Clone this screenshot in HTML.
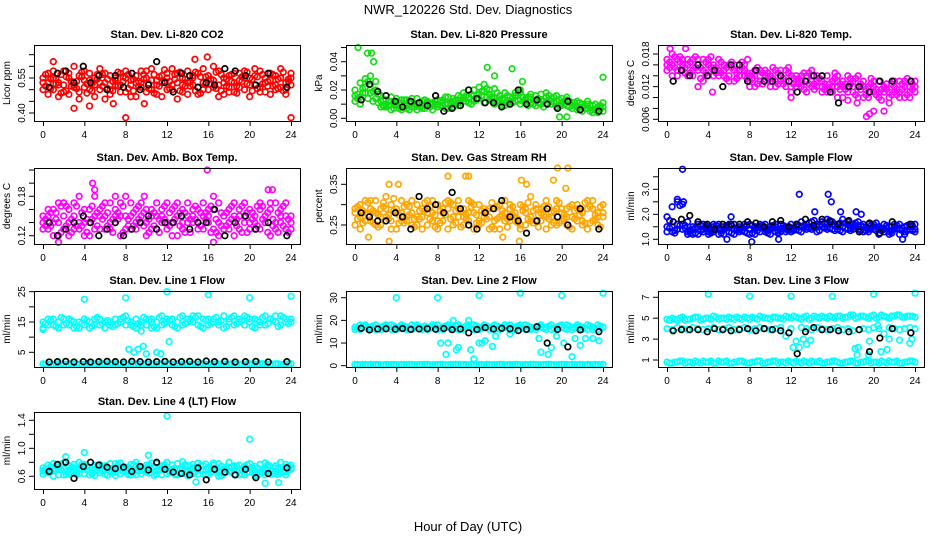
<!DOCTYPE html>
<html><head><meta charset="utf-8">
<style>
html,body{margin:0;padding:0;background:#fff;}
svg{display:block;font-family:"Liberation Sans",sans-serif;}
</style></head>
<body>
<svg id="chart" width="936" height="540" viewBox="0 0 936 540" xmlns="http://www.w3.org/2000/svg">
<rect width="936" height="540" fill="#fff"/>
<text x="468" y="14" font-size="13" text-anchor="middle">NWR_120226  Std. Dev. Diagnostics</text>
<text x="468" y="531" font-size="13" text-anchor="middle">Hour of Day (UTC)</text>
</svg>
<script>
const hours=[0,0.5,1,1.5,2,2.5,3,3.5,4,4.5,5,5.5,6,6.5,7,7.5,8,8.5,9,9.5,10,10.5,11,11.5,12,12.5,13,13.5,14,14.5,15,15.5,16,16.5,17,17.5,18,18.5,19,19.5,20,20.5,21,21.5,22,22.5,23,23.5,24];
const hoursQ=[0.25,0.75,1.25,1.75,2.25,2.75,3.25,3.75,4.25,4.75,5.25,5.75,6.25,6.75,7.25,7.75,8.25,8.75,9.25,9.75,10.25,10.75,11.25,11.75,12.25,12.75,13.25,13.75,14.25,14.75,15.25,15.75,16.25,16.75,17.25,17.75,18.25,18.75,19.25,19.75,20.25,20.75,21.25,21.75,22.25,22.75,23.25,23.75];
const blackHours=[0.6,1.4,2.2,3.0,3.9,4.6,5.4,6.2,7.0,7.8,8.6,9.4,10.2,11.0,11.8,12.6,13.4,14.2,15.0,15.8,16.6,17.6,18.6,19.6,20.6,21.8,23.6];
const xTicks=[0,4,8,12,16,20,24];

const co2A=[.55,.57,.50,.53,.58,.48,.52,.56,.51,.54,.47,.59,.53,.50,.55,.57,.49,.52,.56,.53,.58,.50,.54,.47,.55,.52,.57,.49,.53,.56,.51,.59,.50,.54,.52,.48,.56,.53,.57,.50,.55,.52,.58,.49,.54,.56,.51,.53,.55];
const co2B=[.50,.53,.58,.47,.52,.55,.60,.49,.54,.57,.52,.50,.46,.56,.52,.49,.58,.54,.47,.51,.55,.59,.48,.53,.57,.50,.46,.55,.58,.52,.48,.53,.56,.60,.47,.55,.51,.49,.54,.58,.47,.56,.51,.55,.48,.52,.59,.50,.57];
const co2C=[.53,.48,.55,.52,.49,.57,.51,.46,.58,.50,.55,.53,.57,.48,.54,.52,.55,.47,.53,.58,.49,.54,.52,.56,.50,.59,.53,.52,.48,.55,.57,.50,.54,.51,.58,.53,.49,.57,.51,.55,.52,.59,.49,.53,.57,.50,.55,.48,.52];
const co2D=[.515,.545,.525,.565,.495,.535,.505,.555,.485,.525,.565,.515,.545,.495,.575,.535,.505,.545,.515,.565,.525,.485,.555,.535,.505,.545,.575,.515,.535,.495,.555,.525,.545,.505,.565,.515,.535,.485,.555,.525,.545,.505,.565,.535,.515,.545,.495,.535];
const co2E=[.565,.505,.545,.485,.555,.515,.535,.575,.525,.495,.545,.565,.505,.535,.515,.555,.565,.495,.535,.545,.505,.565,.515,.585,.535,.565,.495,.545,.515,.575,.485,.555,.525,.575,.495,.545,.565,.515,.535,.575,.495,.555,.525,.515,.565,.505,.575,.545];
const co2OutH=[1,3,4.5,8,14.7,15.9,24,9.8,6.8];
const co2OutV=[.62,.42,.43,.38,.63,.64,.38,.44,.44];
const co2Black=[.51,.57,.58,.53,.60,.53,.56,.50,.56,.51,.57,.50,.52,.62,.53,.49,.57,.56,.51,.53,.52,.59,.58,.56,.52,.57,.51];

const presA=[.020,.025,.028,.018,.014,.012,.010,.015,.009,.011,.013,.008,.010,.012,.009,.011,.008,.013,.010,.012,.016,.018,.015,.020,.022,.019,.017,.014,.016,.013,.015,.012,.018,.014,.011,.016,.013,.015,.010,.012,.014,.009,.011,.008,.010,.007,.009,.006,.008];
const presB=[.012,.015,.022,.030,.020,.016,.008,.012,.014,.006,.009,.011,.014,.007,.012,.010,.013,.009,.015,.008,.011,.014,.020,.012,.017,.024,.013,.021,.011,.018,.010,.016,.020,.011,.015,.009,.017,.011,.014,.016,.009,.013,.007,.012,.005,.010,.006,.004,.011];
const presC=[.016,.010,.018,.024,.026,.008,.013,.006,.010,.013,.007,.014,.006,.009,.011,.006,.010,.011,.007,.014,.009,.012,.011,.016,.014,.011,.020,.010,.013,.009,.012,.018,.010,.013,.017,.012,.010,.018,.012,.008,.011,.015,.009,.006,.008,.012,.004,.008,.005];
const presD=[.017,.021,.014,.019,.011,.009,.012,.007,.011,.009,.012,.008,.011,.007,.010,.012,.009,.015,.011,.013,.015,.012,.017,.014,.019,.015,.012,.018,.014,.011,.014,.016,.012,.015,.010,.014,.012,.016,.011,.013,.010,.012,.009,.011,.007,.009,.006,.009];
const presE=[.014,.018,.026,.012,.017,.013,.009,.011,.007,.013,.006,.010,.008,.013,.008,.009,.012,.007,.009,.010,.013,.016,.010,.013,.016,.021,.015,.012,.009,.016,.011,.013,.015,.009,.013,.011,.008,.013,.015,.009,.012,.008,.011,.006,.009,.005,.010,.007];
const presOutH=[0.3,1.2,1.6,1.8,12.8,15.2,13.5,24,16.2,19.8,20.5,2.8];
const presOutV=[.050,.046,.046,.040,.036,.035,.030,.029,.026,.001,.001,.008];
const presBlack=[.013,.024,.019,.016,.012,.008,.012,.011,.009,.016,.005,.007,.009,.020,.014,.011,.011,.008,.010,.020,.010,.013,.010,.007,.012,.006,.005];

const tempA=[.017,.016,.015,.017,.016,.015,.016,.017,.014,.016,.015,.016,.014,.015,.016,.014,.013,.015,.014,.013,.014,.015,.013,.012,.014,.013,.012,.014,.013,.012,.013,.012,.011,.013,.012,.011,.013,.012,.010,.012,.011,.013,.011,.010,.012,.011,.013,.010,.012];
const tempB=[.015,.018,.014,.016,.017,.014,.017,.015,.016,.014,.017,.014,.016,.013,.015,.016,.014,.012,.015,.014,.012,.013,.014,.015,.012,.014,.013,.011,.014,.013,.011,.014,.012,.010,.013,.012,.011,.014,.012,.010,.013,.011,.012,.009,.011,.013,.010,.012,.013];
const tempC=[.016,.014,.017,.015,.014,.017,.015,.013,.017,.015,.014,.015,.013,.016,.014,.015,.012,.014,.013,.015,.013,.012,.015,.013,.011,.012,.014,.013,.012,.014,.012,.011,.013,.012,.010,.014,.012,.010,.013,.011,.012,.010,.012,.011,.013,.010,.012,.011,.011];
const tempD=[.0165,.0155,.0175,.0145,.0165,.0155,.0135,.0165,.0155,.0145,.0165,.0135,.0155,.0145,.0165,.0135,.0145,.0125,.0145,.0135,.0155,.0125,.0135,.0145,.0125,.0135,.0115,.0145,.0125,.0135,.0115,.0125,.0145,.0115,.0125,.0135,.0105,.0125,.0115,.0135,.0105,.0115,.0125,.0105,.0115,.0125,.0105,.0125];
const tempE=[.0155,.0175,.0165,.0155,.0145,.0175,.0155,.0145,.0175,.0155,.0145,.0155,.0165,.0135,.0155,.0145,.0135,.0155,.0125,.0145,.0135,.0145,.0125,.0155,.0135,.0125,.0145,.0125,.0115,.0135,.0125,.0115,.0135,.0125,.0115,.0125,.0135,.0115,.0105,.0125,.0115,.0095,.0115,.0125,.0105,.0115,.0135,.0115];
const tempOutH=[0.3,1.8,3.0,4.4,7.8,14,16.5,12,19.3,19.6,20,21,18.4,17.5];
const tempOutV=[.019,.019,.012,.011,.017,.015,.014,.010,.0065,.007,.0075,.0075,.009,.0095];
const tempBlack=[.013,.015,.014,.016,.014,.015,.012,.016,.016,.013,.015,.013,.013,.014,.013,.011,.013,.014,.014,.011,.009,.012,.012,.011,.013,.013,.013];

const ambA=[.15,.13,.16,.14,.17,.12,.15,.13,.16,.14,.18,.13,.15,.14,.16,.12,.15,.17,.13,.15,.14,.16,.13,.15,.17,.14,.12,.16,.14,.15,.13,.17,.14,.16,.12,.15,.14,.17,.13,.15,.16,.14,.13,.15,.17,.14,.16,.13,.15];
const ambB=[.13,.16,.14,.12,.15,.16,.13,.18,.14,.12,.15,.16,.13,.17,.14,.15,.18,.13,.16,.14,.12,.15,.17,.14,.13,.16,.15,.13,.17,.14,.16,.13,.15,.18,.14,.13,.16,.12,.15,.17,.14,.13,.16,.15,.12,.17,.14,.15,.13];
const ambC=[.14,.15,.12,.17,.13,.14,.17,.14,.12,.16,.13,.15,.17,.13,.15,.17,.13,.15,.14,.17,.16,.13,.15,.16,.14,.12,.17,.14,.15,.16,.14,.15,.16,.13,.17,.15,.13,.15,.16,.14,.13,.15,.17,.14,.16,.13,.15,.17,.14];
const ambD=[.145,.135,.155,.125,.165,.145,.135,.155,.145,.165,.135,.145,.155,.125,.145,.165,.135,.155,.145,.135,.125,.155,.145,.165,.135,.145,.155,.125,.145,.165,.135,.155,.125,.145,.155,.135,.165,.145,.125,.155,.145,.135,.165,.125,.145,.155,.135,.145];
const ambE=[.135,.155,.145,.165,.135,.125,.165,.135,.125,.145,.155,.165,.135,.145,.155,.125,.145,.135,.165,.155,.145,.135,.125,.145,.155,.165,.135,.155,.125,.145,.155,.145,.165,.125,.135,.155,.145,.135,.165,.125,.155,.165,.145,.155,.135,.125,.165,.125];
const ambOutH=[2,4.8,5,9.8,15.9,16.5,21.8,22.2,1.5,7];
const ambOutV=[.17,.20,.19,.18,.22,.11,.19,.19,.11,.18];
const ambBlack=[.14,.12,.13,.14,.15,.14,.12,.13,.14,.12,.13,.14,.15,.13,.14,.14,.15,.13,.14,.14,.16,.12,.14,.15,.13,.14,.12];

const rhA=[.28,.30,.26,.29,.31,.25,.27,.30,.24,.28,.26,.31,.27,.29,.25,.28,.30,.26,.29,.27,.31,.25,.28,.30,.26,.28,.24,.29,.27,.31,.26,.28,.30,.25,.27,.29,.26,.31,.27,.25,.29,.27,.30,.26,.28,.24,.29,.27,.28];
const rhB=[.25,.27,.31,.26,.28,.29,.32,.26,.29,.31,.27,.25,.30,.24,.28,.31,.26,.29,.24,.30,.27,.29,.26,.24,.30,.27,.29,.26,.24,.28,.30,.26,.25,.29,.32,.26,.29,.24,.28,.31,.26,.29,.24,.30,.26,.29,.31,.25,.27];
const rhC=[.29,.24,.28,.31,.25,.27,.29,.24,.28,.26,.30,.28,.25,.27,.31,.26,.24,.28,.31,.25,.29,.27,.31,.28,.25,.29,.27,.24,.30,.26,.29,.27,.24,.28,.26,.30,.28,.27,.25,.29,.28,.25,.27,.29,.25,.31,.26,.28,.30];
const rhD=[.265,.285,.305,.255,.275,.295,.265,.315,.275,.255,.295,.265,.285,.305,.265,.245,.285,.275,.305,.255,.285,.265,.295,.275,.255,.285,.305,.265,.275,.245,.295,.265,.285,.305,.255,.275,.295,.265,.285,.255,.275,.295,.265,.285,.305,.255,.275,.295];
const rhE=[.295,.255,.275,.285,.245,.305,.275,.285,.255,.295,.275,.245,.265,.285,.295,.275,.255,.305,.265,.285,.245,.275,.305,.255,.285,.265,.245,.295,.285,.265,.275,.255,.295,.265,.285,.245,.275,.295,.255,.305,.265,.245,.285,.275,.255,.295,.265,.245];
const rhOutH=[1.3,3.3,3.3,4.2,9,10.7,11.0,15.9,16.1,16.6,19.6,20.6,20.4,19.2,14.3];
const rhOutV=[.22,.21,.35,.35,.37,.37,.37,.21,.36,.35,.39,.39,.34,.36,.22];
const rhBlack=[.28,.27,.26,.26,.28,.27,.24,.32,.29,.30,.28,.33,.29,.25,.24,.28,.29,.31,.27,.26,.23,.26,.29,.27,.25,.29,.24];

const sfA=[1.9,2.3,1.6,1.4,1.3,1.5,1.2,1.4,1.5,1.3,1.4,1.2,1.5,1.4,1.3,1.5,1.4,1.2,1.5,1.3,1.4,1.6,1.3,1.5,1.4,1.6,1.5,1.4,1.7,1.6,1.5,1.8,1.6,1.4,1.5,1.7,1.5,1.4,1.6,1.3,1.5,1.4,1.3,1.5,1.4,1.2,1.5,1.4,1.3];
const sfB=[1.3,1.5,2.5,1.6,1.7,1.2,1.5,1.6,1.3,1.5,1.6,1.4,1.3,1.6,1.5,1.3,1.6,1.5,1.3,1.6,1.2,1.5,1.4,1.3,1.6,1.4,1.7,1.5,1.4,1.5,1.7,1.5,1.4,1.6,1.8,1.4,1.6,1.5,1.3,1.6,1.4,1.2,1.6,1.3,1.5,1.6,1.3,1.5,1.6];
const sfC=[1.5,1.3,1.4,2.4,1.2,1.4,1.6,1.3,1.2,1.6,1.2,1.5,1.6,1.2,1.4,1.6,1.2,1.4,1.6,1.4,1.5,1.3,1.6,1.4,1.3,1.5,1.3,1.6,1.5,1.3,1.6,1.4,1.7,1.5,1.3,1.6,1.4,1.7,1.5,1.4,1.6,1.5,1.4,1.2,1.6,1.4,1.2,1.6,1.4];
const sfD=[1.45,1.35,2.35,1.55,1.25,1.45,1.35,1.55,1.25,1.45,1.35,1.55,1.25,1.45,1.35,1.25,1.55,1.35,1.45,1.25,1.45,1.35,1.55,1.45,1.35,1.55,1.45,1.65,1.45,1.55,1.65,1.45,1.55,1.35,1.65,1.45,1.55,1.35,1.45,1.55,1.35,1.45,1.55,1.35,1.45,1.35,1.55,1.35];
const sfE=[1.75,1.25,1.55,1.45,1.35,1.25,1.55,1.45,1.35,1.55,1.25,1.45,1.55,1.35,1.45,1.55,1.25,1.45,1.55,1.35,1.55,1.25,1.45,1.35,1.45,1.35,1.55,1.45,1.75,1.35,1.45,1.75,1.35,1.65,1.45,1.35,1.65,1.55,1.35,1.45,1.65,1.35,1.45,1.25,1.55,1.45,1.35,1.55];
const sfOutH=[1.5,1.0,1.6,8.2,10.8,15.6,15.9,12.8,16.8,14.3,18.3,18.8,22.8,6.2,5.8];
const sfOutV=[3.8,2.6,2.5,0.9,1.0,2.8,2.5,2.8,2.1,2.1,2.1,2.0,1.0,1.9,1.0];
const sfBlack=[1.7,1.8,1.95,1.7,1.6,1.4,1.6,1.6,1.6,1.7,1.65,1.5,1.7,1.75,1.5,1.6,1.8,1.55,1.8,1.7,1.6,1.75,1.3,1.65,1.25,1.7,1.6];

const l1A=[15,16,14,15,16,14,15,13,16,15,14,16,15,14,16,15,17,14,16,15,14,16,15,17,16,14,15,17,16,15,17,16,14,16,15,17,15,14,16,17,15,16,14,17,16,15,17,16,15];
const l1B=[13,14,16,13,14,16,13,15,14,13,16,14,13,15,14,16,14,15,13,14,16,15,13,14,15,16,13,14,15,17,14,13,16,15,14,13,16,17,15,14,16,13,15,14,16,17,14,15,16];
const l1C=[1.2,1.1,1.0,1.2,1.1,1.0,1.2,1.1,1.0,1.2,1.1,1.2,1.0,1.1,1.2,1.0,1.1,1.2,1.0,1.1,1.2,1.1,1.0,1.2,1.1,1.0,1.2,1.1,1.2,1.0,1.1,1.2,1.0,1.1,1.2,1.1,1.0,1.2,1.1,1.0,1.2,1.1,1.2,1.0,1.1,1.2,1.0,1.1,1.2];
const l1D=[14.5,15.5,13.5,16.5,14.5,15.5,13.5,14.5,15.5,13.5,16.5,14.5,15.5,13.5,14.5,16.5,15.5,13.5,14.5,16.5,15.5,13.5,16.5,14.5,15.5,13.5,16.5,14.5,15.5,16.5,13.5,15.5,14.5,16.5,15.5,13.5,16.5,14.5,15.5,16.5,13.5,15.5,16.5,14.5,15.5,13.5,16.5,14.5];
const l1E=[1.1,1.0,1.2,1.1,1.0,1.2,1.1,1.0,1.2,1.1,1.0,1.1,1.2,1.0,1.1,1.2,1.0,1.1,1.2,1.0,1.1,1.2,1.0,1.1,1.2,1.0,1.1,1.2,1.0,1.1,1.2,1.0,1.1,1.2,1.0,1.1,1.2,1.0,1.1,1.2,1.0,1.1,1.2,1.0,1.1,1.2,1.0,1.1];
const l1OutH=[4,8,12,16,20,24,8.3,8.8,9.2,9.7,10,11,11.4,12.2,9.5,10.5,0];
const l1OutV=[22.5,23,25,24,23,23.5,6,5,6,7,4.5,5,4.5,8.5,12,13,12.5];
const l1Black=[1.8,1.9,2.0,1.8,1.9,1.8,1.9,2.0,1.9,1.8,2.0,1.9,1.8,1.9,2.0,1.8,1.9,2.0,1.8,2.1,1.9,2.0,1.8,1.9,2.0,1.8,1.9];

const l2A=[17,16,18,17,16,17,18,16,17,17,16,18,17,16,17,18,16,17,18,17,16,17,18,16,17,18,17,16,17,18,16,17,17,18,16,17,18,17,16,17,18,16,17,18,17,16,17,18,17];
const l2B=[16,18,17,16,18,16,17,18,16,18,17,16,18,17,16,17,18,16,17,16,18,16,17,18,16,17,16,18,16,17,18,16,18,16,17,16,17,16,18,16,17,18,16,17,16,18,16,16,17];
const l2C=[0.6,0.4,0.5,0.6,0.5,0.4,0.6,0.5,0.4,0.6,0.5,0.6,0.4,0.5,0.6,0.4,0.5,0.6,0.4,0.5,0.6,0.5,0.4,0.6,0.5,0.4,0.6,0.5,0.6,0.4,0.5,0.6,0.4,0.5,0.6,0.5,0.4,0.6,0.5,0.4,0.6,0.5,0.6,0.4,0.5,0.6,0.4,0.5,0.6];
const l2D=[16.5,17.5,16.5,17.5,16.5,17.5,16.5,17.5,16.5,17.5,16.5,17.5,16.5,17.5,16.5,17.5,16.5,17.5,16.5,17.5,16.5,17.5,16.5,17.5,16.5,17.5,16.5,17.5,16.5,17.5,16.5,17.5,16.5,17.5,16.5,17.5,16.5,17.5,16.5,17.5,16.5,17.5,16.5,17.5,16.5,17.5,16.5,17.5];
const l2E=[0.5,0.6,0.4,0.5,0.6,0.4,0.5,0.6,0.4,0.5,0.6,0.4,0.5,0.6,0.4,0.5,0.6,0.4,0.5,0.6,0.4,0.5,0.6,0.4,0.5,0.6,0.4,0.5,0.6,0.4,0.5,0.6,0.4,0.5,0.6,0.4,0.5,0.6,0.4,0.5,0.6,0.4,0.5,0.6,0.4,0.5,0.6,0.4];
const l2OutH=[4,8,12,16,20,24,8.3,8.8,9,9.5,9.8,10,11,11.2,11.5,12,12.3,13.3,13.6,15,17.8,18,18.7,19,19.5,20.2,21,21.3,21.8,22.3,23,23.6,12.6];
const l2OutV=[30,30,31,32,31,32,10,5,10,20,7,8,20,7,3,10,10,8.5,13,14,12,6,5,8,13,10,4,12,9,12,12,11,11];
const l2Black=[16.5,15.8,16.2,16.3,16.1,16.4,16.0,16.2,16.3,16.1,16.4,15.9,16.2,14.5,16.0,16.8,16.2,16.5,16.3,15.5,16.0,17.2,10.0,16.0,8.3,15.8,15.0];

const l3A=[4.9,5.0,4.8,5.1,4.9,5.0,5.1,4.9,5.0,5.2,4.9,5.0,5.1,4.9,5.0,5.1,4.9,5.0,5.2,5.0,4.9,5.1,5.0,5.2,5.0,5.1,4.9,5.2,5.0,5.1,5.2,5.0,5.1,5.2,5.0,5.1,5.3,5.1,5.2,5.0,5.3,5.1,5.2,5.0,5.2,5.3,5.1,5.2,5.1];
const l3B=[4.0,3.9,4.1,4.0,3.9,4.1,4.0,3.9,4.0,4.1,3.9,4.0,4.1,3.9,4.0,4.1,3.9,4.0,4.1,4.0,3.9,4.0,4.1,3.3,4.0,2.8,4.1,4.0,3.9,4.1,4.0,3.9,4.0,4.1,3.9,4.0,3.8,2.2,4.0,3.9,4.1,4.0,3.5,4.1,4.0,3.9,4.0,4.1,4.0];
const l3C=[0.8,0.7,0.8,0.9,0.8,0.7,0.8,0.9,0.8,0.7,0.9,0.8,0.7,0.8,0.9,0.8,0.7,0.8,0.9,0.7,0.8,0.9,0.8,0.7,0.8,0.9,0.7,0.8,0.9,0.8,0.7,0.8,0.9,0.8,0.7,0.8,0.9,0.7,0.8,0.9,0.8,0.7,0.8,0.9,0.8,0.7,0.8,0.9,0.8];
const l3D=[4.8,4.9,5.0,4.8,4.9,5.1,4.8,5.0,4.9,5.1,5.0,4.9,5.0,5.1,4.9,5.0,5.1,4.9,5.1,5.0,5.1,5.0,4.9,5.1,5.2,5.0,5.1,4.9,5.2,5.0,5.1,5.2,5.0,5.2,5.1,5.3,5.0,5.2,5.1,5.2,5.0,5.3,5.1,5.2,5.3,5.1,5.2,5.2];
const l3E=[0.7,0.8,0.9,0.7,0.8,0.9,0.7,0.8,0.9,0.7,0.8,0.9,0.7,0.8,0.9,0.7,0.8,0.9,0.7,0.8,0.9,0.7,0.8,0.9,0.7,0.8,0.9,0.7,0.8,0.9,0.7,0.8,0.9,0.7,0.8,0.9,0.7,0.8,0.9,0.7,0.8,0.9,0.7,0.8,0.9,0.7,0.8,0.9];
const l3OutH=[4,8,12,16,20,24,12.2,12.8,13.2,13.5,13.9,18.2,18.4,19.5,19.6,20.7,21.3,21.5,22.5,23.5,23.7,20.4];
const l3OutV=[7.3,7.1,7.1,7.1,7.3,7.4,2.2,2.2,3.0,2.5,2.9,2.1,1.5,1.5,2.8,1.8,2.0,3.0,2.9,2.6,3.0,4.3];
const l3Black=[3.8,3.9,3.9,3.9,3.7,4.0,3.9,3.8,3.9,4.0,3.8,4.0,3.9,3.8,3.6,1.6,3.7,4.1,3.9,3.9,3.8,3.7,3.9,1.8,3.1,4.0,3.6];

const l4A=[.72,.65,.78,.70,.62,.75,.68,.80,.64,.73,.69,.77,.63,.71,.66,.79,.70,.62,.75,.68,.72,.65,.78,.70,.64,.76,.69,.81,.66,.72,.63,.75,.70,.67,.78,.64,.73,.69,.76,.62,.71,.74,.66,.79,.68,.72,.65,.77,.70];
const l4B=[.63,.76,.68,.62,.79,.66,.72,.64,.77,.69,.61,.71,.75,.66,.78,.64,.73,.77,.62,.70,.66,.79,.63,.74,.80,.67,.62,.71,.75,.64,.79,.68,.62,.76,.66,.71,.80,.63,.68,.74,.66,.61,.77,.69,.63,.75,.80,.66,.72];
const l4C=[.68,.70,.60,.74,.71,.63,.77,.70,.72,.62,.76,.65,.70,.78,.61,.72,.67,.70,.80,.64,.76,.70,.68,.62,.72,.70,.78,.65,.61,.77,.70,.63,.73,.79,.60,.70,.67,.75,.62,.72,.78,.67,.70,.62,.74,.66,.70,.62,.76];
const l4D=[.705,.665,.745,.685,.625,.725,.655,.765,.695,.635,.745,.675,.715,.655,.735,.695,.625,.755,.675,.705,.645,.735,.685,.765,.655,.715,.635,.745,.695,.665,.755,.625,.715,.685,.745,.655,.725,.695,.635,.765,.685,.715,.655,.745,.675,.625,.735,.695];
const l4E=[.655,.735,.705,.775,.665,.695,.625,.715,.745,.655,.685,.735,.615,.695,.765,.665,.715,.645,.725,.695,.765,.615,.705,.735,.675,.625,.715,.765,.645,.725,.685,.775,.655,.705,.615,.735,.665,.745,.705,.655,.725,.615,.695,.765,.635,.715,.665,.745];
const l4OutH=[12,20,4,10.2,2.2,14.8,21.5,22.8];
const l4OutV=[1.46,1.13,0.94,0.90,0.88,0.52,0.50,0.51];
const l4Black=[.67,.77,.80,.57,.74,.80,.76,.73,.71,.73,.67,.74,.69,.80,.70,.66,.64,.62,.72,.55,.70,.66,.62,.70,.58,.64,.72];

const yTicks1=[.40,.45,.50,.55,.60,.65]; const yLab1=["0.40","","","0.55","",""];
const yTicks2=[0,.01,.02,.03,.04,.05]; const yLab2=["0.00","","0.02","","0.04",""];
const yTicks3=[.006,.008,.010,.012,.014,.016,.018]; const yLab3=["0.006","","","0.012","","","0.018"];
const yTicks4=[.12,.14,.16,.18,.20,.22]; const yLab4=["0.12","","","0.18","",""];
const yTicks5=[.25,.30,.35]; const yLab5=["0.25","","0.35"];
const yTicks6=[1,1.5,2,2.5,3,3.5]; const yLab6=["1.0","","2.0","","3.0",""];
const yTicks7=[5,10,15,20,25]; const yLab7=["5","","15","","25"];
const yTicks8=[0,10,20,30]; const yLab8=["0","10","20","30"];
const yTicks9=[1,3,5,7]; const yLab9=["1","3","5","7"];
const yTicks10=[0.6,0.8,1.0,1.2,1.4]; const yLab10=["0.6","","1.0","","1.4"];

const NS="http://www.w3.org/2000/svg";
const svg=document.getElementById('chart');
function mk(tag,attrs,parent){const e=document.createElementNS(NS,tag);for(const k in attrs)e.setAttribute(k,attrs[k]);(parent||svg).appendChild(e);return e;}

const panels=[
 {key:'co2',title:'Stan. Dev. Li-820 CO2',ylab:'Licor ppm',col:0,row:0,color:'#ff0000',ser:[co2A,co2B,co2C],serQ:[co2D,co2E],oh:co2OutH,ov:co2OutV,bk:co2Black,yt:yTicks1,yl:yLab1,v0:.40,p0:113,v1:.55,p1:78},
 {key:'pressure',title:'Stan. Dev. Li-820 Pressure',ylab:'kPa',col:1,row:0,color:'#11dd11',ser:[presA,presB,presC],serQ:[presD,presE],oh:presOutH,ov:presOutV,bk:presBlack,yt:yTicks2,yl:yLab2,v0:0,p0:118.3,v1:.04,p1:61.7},
 {key:'temp',title:'Stan. Dev. Li-820 Temp.',ylab:'degrees C',col:2,row:0,color:'#ff00ff',ser:[tempA,tempB,tempC],serQ:[tempD,tempE],oh:tempOutH,ov:tempOutV,bk:tempBlack,yt:yTicks3,yl:yLab3,v0:.006,p0:119.3,v1:.018,p1:54},
 {key:'ambbox',title:'Stan. Dev. Amb. Box Temp.',ylab:'degrees C',col:0,row:1,color:'#ff00ff',ser:[ambA,ambB,ambC],serQ:[ambD,ambE],oh:ambOutH,ov:ambOutV,bk:ambBlack,yt:yTicks4,yl:yLab4,v0:.12,p0:235.7,v1:.18,p1:196.3},
 {key:'rh',title:'Stan. Dev. Gas Stream RH',ylab:'percent',col:1,row:1,color:'#ffa500',ser:[rhA,rhB,rhC],serQ:[rhD,rhE],oh:rhOutH,ov:rhOutV,bk:rhBlack,yt:yTicks5,yl:yLab5,v0:.25,p0:225,v1:.35,p1:184.3},
 {key:'sampleflow',title:'Stan. Dev. Sample Flow',ylab:'ml/min',col:2,row:1,color:'#0000ff',ser:[sfA,sfB,sfC],serQ:[sfD,sfE],oh:sfOutH,ov:sfOutV,bk:sfBlack,yt:yTicks6,yl:yLab6,v0:1,p0:239.3,v1:3,p1:189.3},
 {key:'line1',title:'Stan. Dev. Line 1 Flow',ylab:'ml/min',col:0,row:2,color:'#00ffff',ser:[l1A,l1B,l1C],serQ:[l1D,l1E],oh:l1OutH,ov:l1OutV,bk:l1Black,yt:yTicks7,yl:yLab7,v0:5,p0:352.3,v1:25,p1:291.7},
 {key:'line2',title:'Stan. Dev. Line 2 Flow',ylab:'ml/min',col:1,row:2,color:'#00ffff',ser:[l2A,l2B,l2C],serQ:[l2D,l2E],oh:l2OutH,ov:l2OutV,bk:l2Black,yt:yTicks8,yl:yLab8,v0:0,p0:365.7,v1:30,p1:297.7},
 {key:'line3',title:'Stan. Dev. Line 3 Flow',ylab:'ml/min',col:2,row:2,color:'#00ffff',ser:[l3A,l3B,l3C],serQ:[l3D,l3E],oh:l3OutH,ov:l3OutV,bk:l3Black,yt:yTicks9,yl:yLab9,v0:1,p0:360,v1:7,p1:297.3},
 {key:'line4',title:'Stan. Dev. Line 4 (LT) Flow',ylab:'ml/min',col:0,row:3,color:'#00ffff',ser:[l4A,l4B,l4C],serQ:[l4D,l4E],oh:l4OutH,ov:l4OutV,bk:l4Black,yt:yTicks10,yl:yLab10,v0:0.6,p0:476.3,v1:1.4,p1:420.3}
];
const colLeft=[34,346,658], rowTop=[45,168,291,412], W=266, H=76;

panels.forEach(p=>{
  const L=colLeft[p.col], T=rowTop[p.row], B=T+H+(p.row===3?1:0), R=L+W;
  const g=mk('g',{});
  
  
  const xs=h=>L+9+h/24*248;
  const ys=v=>p.p0+(v-p.v0)*(p.p1-p.p0)/(p.v1-p.v0);
  const t=mk('text',{x:(L+R)/2,y:T-7,'font-size':11,'font-weight':'bold','text-anchor':'middle'},g);
  t.textContent=p.title;
  
  
  const pts=mk('g',{fill:'none','stroke-width':1.7},g);
  
  
  p.ser.forEach(arr=>{arr.forEach((v,i)=>{const c=mk('circle',{cx:xs(hours[i]),cy:ys(v),r:2.8,stroke:p.color},pts);
    
    });});
  p.serQ.forEach(arr=>{arr.forEach((v,i)=>{const c=mk('circle',{cx:xs(hoursQ[i]),cy:ys(v),r:2.8,stroke:p.color},pts);
    
    });});
  p.oh.forEach((h,i)=>{const c=mk('circle',{cx:xs(h),cy:ys(p.ov[i]),r:2.8,stroke:p.color},pts);
    
    });
  p.bk.forEach((v,i)=>{const c=mk('circle',{cx:xs(blackHours[i]),cy:ys(v),r:2.8,stroke:'#000'},pts);
    
    });
  const bx=mk('rect',{x:L+0.5,y:T+0.5,width:W,height:B-T,fill:'none',stroke:'#000','stroke-width':1},g);
  
  
  const xa=mk('g',{},g);
  
  
  mk('line',{x1:xs(0),x2:xs(24),y1:B+0.5,y2:B+0.5,stroke:'#000'},xa);
  xTicks.forEach(h=>{mk('line',{x1:xs(h)+0.5,x2:xs(h)+0.5,y1:B,y2:B+5,stroke:'#000'},xa);
    const tl=mk('text',{x:xs(h),y:B+17,'font-size':10,'text-anchor':'middle'},xa);tl.textContent=h;
    
    });
  const ya=mk('g',{},g);
  
  
  p.yt.forEach((v,i)=>{const y=ys(v);mk('line',{x1:L-5,x2:L,y1:y,y2:y,stroke:'#000'},ya);
    if(p.yl[i]){const tl=mk('text',{x:L-9,y:y,'font-size':10,'text-anchor':'middle',transform:`rotate(-90 ${L-9} ${y})`},ya);tl.textContent=p.yl[i];
      
      }});
  const yt=mk('text',{x:L-24,y:(T+B)/2,'font-size':10,'text-anchor':'middle',transform:`rotate(-90 ${L-24} ${(T+B)/2})`},ya);
  yt.textContent=p.ylab;
  
  
});
</script>
</body></html>
